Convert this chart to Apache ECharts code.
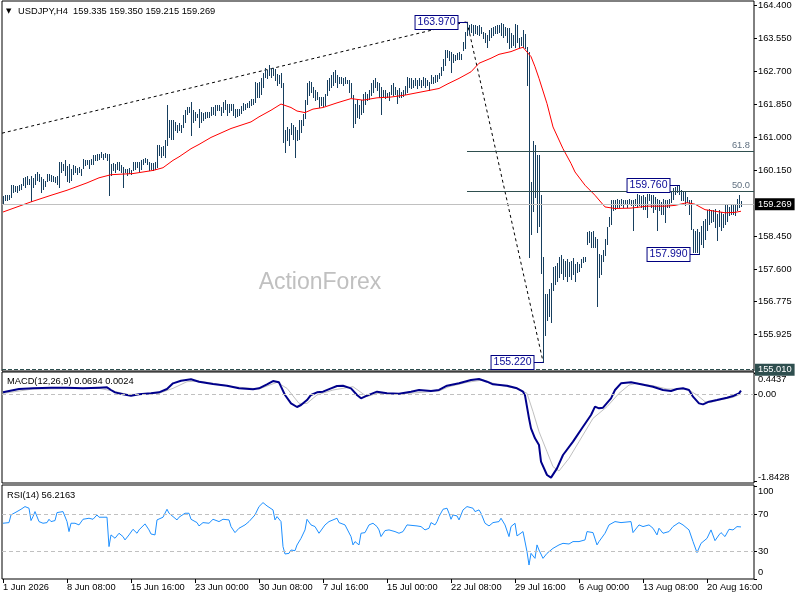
<!DOCTYPE html>
<html><head><meta charset="utf-8">
<script src="https://cdn.jsdelivr.net/npm/echarts/dist/echarts.min.js"></script>
<style>html,body{margin:0;padding:0;background:#fff}#c{width:800px;height:600px}</style>
</head><body><div id="c"></div>
<script>
const symbol = 'USDJPY,H4';
const lastBar = [159.335, 159.350, 159.215, 159.269];
const highs = [
159.47,159.50,159.50,159.51,159.76,159.76,159.73,159.73,159.76,159.78,
159.95,159.97,159.99,159.93,159.99,159.95,160.06,160.10,160.06,159.97,
159.93,159.88,160.04,160.04,160.01,159.99,159.97,159.99,160.36,160.36,
160.31,160.40,160.25,160.31,160.19,160.27,160.25,160.21,160.23,160.19,
160.44,160.42,160.42,160.40,160.43,160.53,160.53,160.57,160.57,160.61,
160.57,160.59,160.56,160.57,160.31,160.33,160.31,160.36,160.36,160.27,
160.23,160.19,160.19,160.21,160.14,160.36,160.36,160.36,160.36,160.40,
160.44,160.47,160.43,160.36,160.33,160.33,160.36,160.79,160.79,160.74,
160.76,160.93,161.82,161.43,161.43,161.43,161.39,161.30,161.35,161.30,
161.56,161.69,161.78,161.78,161.91,161.69,161.65,161.60,161.73,
161.65,161.62,161.65,161.65,161.65,161.78,161.78,161.82,161.82,161.82,
161.78,161.91,161.95,161.86,161.85,161.85,161.85,161.73,161.73,161.73,
161.79,161.88,161.86,161.88,161.93,161.97,161.99,162.42,162.38,162.42,
162.51,162.64,162.77,162.72,162.85,162.79,162.79,162.74,162.62,162.59,
162.64,162.38,161.18,161.26,161.22,161.35,161.30,161.26,161.18,161.43,
161.43,161.60,161.95,162.38,162.45,162.42,162.29,162.21,162.16,162.04,
162.04,162.04,162.12,162.46,162.51,162.59,162.68,162.72,162.59,162.55,
162.55,162.51,162.55,162.48,162.48,162.38,162.08,161.86,161.95,161.82,
161.95,162.12,162.16,162.12,162.21,162.38,162.48,162.51,162.42,162.38,
162.29,162.21,162.21,162.14,162.16,
162.34,162.40,162.28,162.21,162.25,162.16,162.21,162.31,162.55,162.51,
162.51,162.47,162.51,162.47,162.51,162.47,162.55,162.51,162.47,162.42,
162.59,162.55,162.59,162.59,162.64,162.81,163.02,163.24,163.24,163.22,
163.20,163.15,163.11,163.17,163.20,163.15,163.45,163.71,163.97,163.88,
163.91,163.88,163.88,163.86,163.88,163.84,163.71,163.67,163.63,163.75,
163.80,163.84,163.86,163.88,163.88,163.94,163.91,163.84,163.80,163.80,
163.67,163.63,163.91,163.88,163.54,163.58,163.75,163.65,163.32,
163.20,159.84,160.90,160.79,160.53,160.53,159.50,157.90,156.95,156.96,
157.10,157.25,157.65,157.69,157.75,157.90,157.95,157.86,
157.82,157.86,157.78,157.82,157.89,157.73,157.78,157.73,157.86,157.91,
157.92,158.55,158.59,158.55,158.59,158.42,158.38,157.99,157.95,158.08,
158.38,158.68,158.94,159.37,159.37,159.37,159.41,159.39,159.41,159.39,
159.37,159.37,159.41,159.37,159.39,159.41,159.54,159.50,159.47,159.50,
159.46,159.54,159.54,159.52,159.50,159.46,159.41,159.37,159.33,159.41,
159.37,159.37,159.41,159.58,159.70,159.72,159.74,159.76,159.64,159.58,
159.58,159.46,159.39,159.37,158.64,158.59,158.64,158.55,158.72,158.85,
158.90,159.11,159.15,159.11,159.11,159.15,159.03,159.11,159.07,159.03,
159.24,159.28,159.20,159.24,159.28,159.24,159.41,159.50,159.35];
const lows = [
159.27,159.39,159.39,159.40,159.45,159.58,159.61,159.58,159.63,159.67,
159.76,159.71,159.80,159.78,159.35,159.71,159.80,159.90,159.88,159.58,
159.67,159.73,159.87,159.90,159.87,159.88,159.84,159.78,159.71,160.10,
160.14,160.01,159.87,159.84,159.90,160.06,160.10,160.06,160.10,160.01,
160.21,160.27,160.30,160.21,160.31,160.31,160.40,160.42,160.44,160.49,
160.43,160.49,160.40,159.52,160.01,160.14,160.10,160.19,160.14,160.09,
159.71,160.09,160.01,160.07,160.06,160.14,160.19,160.23,160.13,160.19,
160.31,160.36,160.30,160.14,160.19,160.14,160.19,160.23,160.53,160.49,
160.53,160.49,160.79,161.00,160.96,160.96,161.17,161.13,161.17,161.13,
161.26,161.39,161.60,161.65,161.05,161.39,161.43,161.52,161.26,
161.39,161.43,161.48,161.52,161.52,161.56,161.60,161.56,161.69,161.69,
161.56,161.65,161.73,161.56,161.65,161.69,161.56,161.52,161.54,161.56,
161.62,161.69,161.73,161.78,161.78,161.82,161.86,161.91,162.04,162.04,
162.12,162.29,162.55,162.51,162.59,162.55,162.59,162.46,162.34,162.38,
162.29,160.87,160.62,160.92,160.79,161.09,160.96,160.49,160.92,160.96,
161.13,161.30,161.48,161.86,162.08,162.16,162.04,161.95,161.99,161.78,
161.82,161.80,161.82,162.08,162.21,162.29,162.34,162.42,162.29,162.38,
162.38,162.34,162.38,162.38,162.16,162.04,161.26,161.35,161.52,161.48,
161.60,161.65,161.86,161.95,161.99,162.08,162.16,162.29,162.21,162.04,
161.60,162.04,162.00,162.04,161.95,
162.12,162.08,162.12,161.88,162.02,162.02,162.05,162.12,162.16,162.29,
162.25,162.29,162.34,162.25,162.34,162.28,162.34,162.29,162.34,162.21,
162.38,162.38,162.42,162.45,162.51,162.59,162.72,162.85,163.07,162.98,
162.68,162.94,162.98,163.00,163.02,163.00,163.24,163.28,163.63,163.67,
163.71,163.63,163.67,163.65,163.63,163.67,163.54,163.45,163.32,163.50,
163.58,163.63,163.67,163.67,163.71,163.63,163.58,163.63,163.45,163.28,
163.32,163.37,163.32,163.45,163.32,163.37,163.32,163.28,162.34,
157.92,158.51,159.10,159.45,158.55,158.70,157.50,155.22,155.90,156.30,
156.40,156.25,157.05,157.22,157.30,157.40,157.50,157.35,
157.43,157.30,157.43,157.35,157.48,157.30,157.52,157.56,157.65,157.78,
157.82,158.25,158.29,158.17,158.17,158.17,156.66,157.39,157.48,157.82,
157.95,158.25,158.72,158.77,159.11,159.15,159.20,159.20,159.24,159.20,
159.28,159.20,159.28,159.24,158.60,159.24,159.20,159.24,159.20,159.15,
159.15,158.94,159.37,159.21,159.07,159.15,158.60,159.11,159.03,159.03,
158.81,159.20,159.20,159.33,159.41,159.54,159.58,159.54,159.37,159.39,
159.24,159.33,159.03,158.64,158.04,158.04,158.05,157.99,158.25,158.17,
158.38,158.60,158.77,158.81,158.85,158.68,158.34,158.72,158.60,158.68,
158.77,158.85,158.98,159.03,159.03,158.98,159.11,159.20,159.215];
const maIdx = [0,14,24,32,42,48,54,65,75,80,85,88,94,98,104,114,124,128,134,139,144,147,151,155,160,167,174,180,187,194,201,214,218,222,228,234,238,244,248,254,258,260,264,266,268,272,275,280,284,286,291,296,301,306,314,322,331,336,342,346,351,356,361,366,369];
const maVal = [159.07,159.33,159.50,159.63,159.82,159.95,160.03,160.06,160.14,160.21,160.40,160.49,160.70,160.81,160.99,161.22,161.39,161.52,161.69,161.85,161.76,161.67,161.63,161.72,161.76,161.88,161.99,161.95,162.01,162.03,162.08,162.21,162.25,162.36,162.51,162.68,162.90,163.03,163.13,163.20,163.28,163.31,163.07,162.81,162.51,161.86,161.26,160.70,160.32,160.10,159.76,159.50,159.20,159.16,159.17,159.22,159.22,159.24,159.31,159.27,159.13,159.09,159.05,159.06,159.09];
const macdIdx = [0,8,15,24,32,40,48,52,54,56,60,64,68,74,78,82,85,89,94,98,105,112,118,125,128,132,135,138,139,141,144,147,149,152,154,157,160,164,167,170,174,177,179,182,187,192,198,204,208,214,218,222,228,234,238,242,245,252,257,260,261,263,264,266,268,269,272,274,277,280,285,290,294,296,298,300,304,306,309,314,319,325,330,334,337,340,343,345,348,350,353,357,362,365,368,369];
const macdVal = [0.034,0.105,0.119,0.133,0.133,0.119,0.133,0.140,0.084,0.034,-0.008,-0.036,-0.008,0.013,0.034,0.105,0.225,0.281,0.310,0.260,0.211,0.175,0.119,0.098,0.119,0.204,0.274,0.246,0.154,-0.022,-0.199,-0.276,-0.234,-0.128,-0.022,0.034,0.048,0.119,0.168,0.175,0.119,-0.022,-0.093,-0.036,0.048,0.013,0.005,0.048,0.084,0.063,0.084,0.175,0.225,0.295,0.317,0.260,0.204,0.175,0.119,0.048,-0.030,-0.516,-0.728,-0.940,-1.081,-1.434,-1.716,-1.772,-1.575,-1.292,-1.010,-0.693,-0.446,-0.269,-0.304,-0.290,-0.093,0.084,0.225,0.246,0.204,0.154,0.084,0.063,0.105,0.119,0.084,-0.057,-0.199,-0.220,-0.163,-0.128,-0.079,-0.043,0.013,0.0694];
const sigIdx = [0,15,48,55,62,68,78,85,92,98,115,128,137,142,148,152,157,165,175,182,187,198,218,223,232,240,248,258,262,265,268,272,275,278,283,288,295,302,308,313,317,325,332,342,347,351,354,358,365,369];
const sigVal = [0.013,0.105,0.119,0.063,-0.008,-0.008,0.013,0.119,0.260,0.274,0.154,0.105,0.246,0.119,-0.199,-0.199,-0.022,0.084,0.154,-0.057,0.013,-0.003,0.063,0.154,0.246,0.295,0.189,0.105,0.013,-0.375,-0.798,-1.222,-1.539,-1.631,-1.363,-1.010,-0.516,-0.269,0.013,0.189,0.225,0.175,0.105,0.105,-0.022,-0.163,-0.177,-0.128,-0.071,0.0024];
const rsiIdx = [0,3,4,7,9,11,13,14,15,16,17,18,20,22,23,24,26,27,28,30,31,32,33,34,36,37,38,40,41,43,45,47,48,52,53,54,56,58,60,61,63,65,67,68,71,73,74,76,77,78,80,82,83,85,87,88,91,93,94,97,98,100,103,105,108,110,113,114,116,118,121,123,126,128,130,132,133,135,136,137,139,140,141,143,144,146,147,149,151,152,154,156,158,159,161,163,167,168,171,172,174,175,176,178,179,181,183,185,187,188,189,191,193,196,198,200,202,203,207,209,211,213,214,216,217,218,220,222,223,224,225,227,228,230,232,233,235,236,238,239,241,243,245,248,249,251,253,254,256,257,258,260,262,263,264,265,266,267,268,270,272,273,275,278,280,283,285,288,291,292,295,297,298,301,303,306,309,314,315,318,320,323,325,327,328,330,333,335,338,340,343,345,347,349,352,354,356,358,359,361,363,365,367,368,369];
const rsiVal = [60.2,60.9,69.2,72.8,75.3,78.2,76.4,63.1,67.4,72.8,71.0,62.0,60.2,60.9,64.5,62.0,63.1,71.7,71.0,72.8,71.0,62.0,51.2,60.2,60.2,58.4,58.4,64.5,63.8,65.6,64.5,69.2,66.7,66.7,35.0,47.6,44.0,49.4,45.8,42.2,47.6,53.7,49.4,53.0,59.5,53.0,48.6,47.6,63.8,62.0,66.7,75.3,71.0,67.4,63.8,66.7,71.0,71.0,64.5,60.9,57.3,60.9,60.2,64.5,62.0,64.5,63.8,56.6,50.1,54.8,58.4,62.0,69.2,78.2,82.5,78.9,80.0,74.6,63.8,67.4,62.0,35.0,27.0,27.7,31.3,30.6,36.7,43.9,53.0,64.5,58.4,56.6,49.4,51.2,58.4,62.0,65.6,60.9,58.4,56.6,45.8,36.8,40.4,36.8,49.4,50.1,58.4,60.2,56.6,53.0,45.8,52.3,53.0,51.2,49.4,51.2,58.4,57.3,57.3,56.6,53.0,54.8,60.9,58.4,62.0,67.4,75.3,76.4,71.0,64.5,69.2,68.1,63.8,74.6,78.2,78.9,76.4,72.8,74.6,71.0,60.2,57.3,60.9,62.0,65.6,58.4,45.8,56.6,60.2,46.5,47.6,51.2,29.5,15.1,27.7,29.5,22.3,36.8,31.3,22.3,27.7,29.5,33.1,36.8,38.5,37.8,40.4,40.4,42.2,51.2,50.1,36.8,40.4,49.4,58.4,62.0,60.9,62.0,50.1,58.4,56.6,58.4,54.8,47.6,54.8,49.4,51.2,56.6,60.9,58.4,53.0,40.4,28.5,38.5,43.9,53.0,41.4,47.6,50.1,45.8,53.7,53.0,56.6,58.4,56.2];
const priceTicks = [164.400,163.550,162.700,161.850,161.000,160.150,158.450,157.600,156.775,155.925];
const macdTicks = [0.4437, 0, -1.8428];
const macdTickText = ['0.4437', '0.00', '-1.8428'];
const macdLevel = 0;
const rsiTicks = [100, 70, 30, 0];
const rsiLevels = [70, 30];
const timeTickIdx = [0,32,64,96,128,160,192,224,256,288,320,352];
const timeLabels = ['1 Jun 2026','8 Jun 08:00','15 Jun 16:00','23 Jun 00:00','30 Jun 08:00','7 Jul 16:00','15 Jul 00:00','22 Jul 08:00','29 Jul 16:00','6 Aug 00:00','13 Aug 08:00','20 Aug 16:00'];
const swingIdx = [232, 270, 338, 348];
const swingPrice = [163.970, 155.220, 159.760, 157.990];
const fibStartIdx = 232;
const fibLevels = [160.628, 159.595];
const fibNames = ['61.8', '50.0'];
const hLinePrice = 155.010;
const trendIdx = [-0.5, 232];
const trendPrice = [161.10, 163.97];
const diagIdx = [232, 270];
const diagPrice = [163.97, 155.22];
const macdParams = [12, 26, 9];
const macdLast = [0.0694, 0.0024];
const rsiPeriod = 14;
const rsiLast = 56.2163;

const FONT = '"Liberation Sans", Arial, sans-serif';
const FS = 9.3;
const XMAX = 375.5, XMIN = -0.5;
const pairs = (a, b) => a.map((v, k) => [v, b[k]]);
const hLine = (val, style) => [
  {coord: [XMIN, val], lineStyle: style, label: {show: false}},
  {coord: [XMAX, val]}
];

const chart = echarts.init(document.getElementById('c'), null, {renderer: 'canvas', width: 800, height: 600});

const hiddenX = (gi) => ({show: false, type: 'value', gridIndex: gi, min: XMIN, max: XMAX, axisLine: {show: false, onZero: false}, axisTick: {show: false}, axisLabel: {show: false}, splitLine: {show: false}});

const option = {
  animation: false,
  backgroundColor: '#fff',
  textStyle: {fontFamily: FONT},
  grid: [
    {left: 2, top: 1, width: 752, height: 370, show: true, borderColor: '#000', borderWidth: 1, backgroundColor: 'transparent'},
    {left: 2, top: 372, width: 752, height: 111, show: true, borderColor: '#000', borderWidth: 1},
    {left: 2, top: 485, width: 752, height: 94, show: true, borderColor: '#000', borderWidth: 1}
  ],
  xAxis: [hiddenX(0), hiddenX(1), {
    type: 'value', gridIndex: 2, min: XMIN, max: XMAX,
    axisLine: {show: false, onZero: false}, splitLine: {show: false},
    axisTick: {show: true, customValues: timeTickIdx, length: 4, lineStyle: {color: '#000'}},
    axisLabel: {show: true, customValues: timeTickIdx, align: 'left', margin: 4, fontSize: FS, color: '#000', fontFamily: FONT,
      formatter: (v) => timeLabels[timeTickIdx.indexOf(Math.round(v))] || ''}
  }],
  yAxis: [
    {type: 'value', gridIndex: 0, position: 'right', min: 154.976, max: 164.503,
      axisLine: {show: false, onZero: false}, splitLine: {show: false},
      axisTick: {show: true, customValues: priceTicks, length: 3, lineStyle: {color: '#000'}},
      axisLabel: {customValues: priceTicks, margin: 4, fontSize: FS, color: '#000', fontFamily: FONT, formatter: (v) => v.toFixed(3)}},
    {type: 'value', gridIndex: 1, position: 'right', min: -1.8851, max: 0.4649,
      axisLine: {show: false, onZero: false}, splitLine: {show: false},
      axisTick: {show: true, customValues: macdTicks, length: 3, lineStyle: {color: '#000'}},
      axisLabel: {customValues: macdTicks, margin: 4, fontSize: FS, color: '#000', fontFamily: FONT,
        formatter: (v) => {
          const k = macdTicks.findIndex(t => Math.abs(t - v) < 1e-6);
          const s = k >= 0 ? macdTickText[k] : String(v);
          return k === 0 ? '{t|' + s + '}' : (k === 2 ? '{b|' + s + '}' : '{n|' + s + '}');
        },
        rich: {t: {padding: [13, 0, 0, 0], fontSize: FS, fontFamily: FONT, color: '#000'},
               b: {padding: [0, 0, 7, 0], fontSize: FS, fontFamily: FONT, color: '#000'},
               n: {fontSize: FS, fontFamily: FONT, color: '#000'}}}},
    {type: 'value', gridIndex: 2, position: 'right', min: 0, max: 101.5,
      axisLine: {show: false, onZero: false}, splitLine: {show: false},
      axisTick: {show: true, customValues: rsiTicks, length: 3, lineStyle: {color: '#000'}},
      axisLabel: {customValues: rsiTicks, margin: 4, fontSize: FS, color: '#000', fontFamily: FONT,
        formatter: (v) => {
          const r = Math.round(v);
          if (r === 100) return '{t|100}';
          if (r === 0) return '{b|0}';
          return '{n|' + r + '}';
        },
        rich: {t: {padding: [11, 0, 0, 0], fontSize: FS, fontFamily: FONT, color: '#000'},
               b: {padding: [0, 0, 14, 0], fontSize: FS, fontFamily: FONT, color: '#000'},
               n: {fontSize: FS, fontFamily: FONT, color: '#000'}}}}
  ],
  graphic: [
    {type: 'text', x: 6, y: 11, z: 100, style: {text: '\u25BC', font: '7px "DejaVu Sans"', fill: '#000', verticalAlign: 'middle'}},
    {type: 'text', x: 18, y: 11, z: 100, style: {text: symbol + '  ' + lastBar.map(v => v.toFixed(3)).join(' '), font: FS + 'px ' + FONT, fill: '#000', verticalAlign: 'middle'}},
    {type: 'text', x: 320, y: 283, z: -1, style: {text: 'ActionForex', font: '23px ' + FONT, fill: '#c0c0c0', align: 'center', verticalAlign: 'middle'}},
    {type: 'text', x: 7, y: 381, z: 100, style: {text: 'MACD(' + macdParams.join(',') + ') ' + macdLast.map(v => v.toFixed(4)).join(' '), font: FS + 'px ' + FONT, fill: '#000', verticalAlign: 'middle'}},
    {type: 'text', x: 7, y: 495, z: 100, style: {text: 'RSI(' + rsiPeriod + ') ' + rsiLast.toFixed(4), font: FS + 'px ' + FONT, fill: '#000', verticalAlign: 'middle'}}
  ],
  series: [
    {
      name: 'bars', type: 'custom', xAxisIndex: 0, yAxisIndex: 0, z: 3, silent: true,
      data: highs.map((h, i) => [i, h, lows[i]]),
      renderItem: (params, api) => {
        const i = api.value(0);
        const a = api.coord([i, api.value(1)]);
        const b = api.coord([i, api.value(2)]);
        const x = Math.floor(a[0]) + 0.5;
        const y1 = Math.round(a[1]), y2 = Math.round(b[1]) + 1;
        return {type: 'line', shape: {x1: x, y1: y1, x2: x, y2: y2}, style: {stroke: '#173f5f', lineWidth: 1}};
      },
      markLine: {
        silent: true, symbol: ['none', 'none'], animation: false,
        data: [
          {yAxis: lastBar[3], lineStyle: {color: '#c0c0c0', width: 1, type: 'solid'},
            label: {show: true, position: 'end', distance: 1, formatter: lastBar[3].toFixed(3), backgroundColor: '#000', color: '#fff', padding: [2, 3, 1, 3], fontSize: FS, fontFamily: FONT}},
          {yAxis: hLinePrice, lineStyle: {color: '#2f4f4f', width: 1, type: [4, 2]},
            label: {show: true, position: 'end', distance: 1, formatter: hLinePrice.toFixed(3), backgroundColor: '#2f4f4f', color: '#fff', padding: [2, 3, 1, 3], fontSize: FS, fontFamily: FONT}},
          ...fibLevels.map((lv, k) => [
            {coord: [fibStartIdx, lv], lineStyle: {color: '#2f4f4f', width: 1, type: 'solid'},
              label: {show: true, position: 'insideEndTop', distance: [4, 2], formatter: fibNames[k], color: '#607080', fontSize: FS, fontFamily: FONT}},
            {coord: [XMAX, lv]}
          ])
        ]
      }
    },
    {name: 'trend', type: 'line', xAxisIndex: 0, yAxisIndex: 0, z: 2, data: pairs(trendIdx, trendPrice), showSymbol: false, symbol: 'none', silent: true,
      lineStyle: {color: '#000', width: 1, type: [3, 3]}},
    {name: 'diag', type: 'line', xAxisIndex: 0, yAxisIndex: 0, z: 2, data: pairs(diagIdx, diagPrice), showSymbol: false, symbol: 'none', silent: true,
      lineStyle: {color: '#000', width: 1, type: [3, 3]}},
    {name: 'ma', type: 'line', xAxisIndex: 0, yAxisIndex: 0, z: 4, data: pairs(maIdx, maVal), showSymbol: false, symbol: 'none', silent: true,
      lineStyle: {color: '#ff0000', width: 1}},
    {
      name: 'swings', type: 'custom', xAxisIndex: 0, yAxisIndex: 0, z: 10, silent: true,
      data: pairs(swingIdx, swingPrice),
      renderItem: (params, api) => {
        const v = api.value(1);
        const p = api.coord([api.value(0), v]);
        const x = Math.round(p[0]) + 0.5, y = Math.round(p[1]) + 0.5;
        const gap = 10;
        return {type: 'group', children: [
          {type: 'line', shape: {x1: x - gap, y1: y, x2: x, y2: y}, style: {stroke: '#000080', lineWidth: 1}},
          {type: 'text', x: x - gap, y: y, style: {text: v.toFixed(3), align: 'right', verticalAlign: 'middle',
            font: '10.5px ' + FONT, fill: '#0a0a96', backgroundColor: '#fff', borderColor: '#000080', borderWidth: 1, padding: [1, 2, 1, 2]}}
        ]};
      }
    },
    {name: 'signal', type: 'line', xAxisIndex: 1, yAxisIndex: 1, z: 3, data: pairs(sigIdx, sigVal), showSymbol: false, symbol: 'none', silent: true,
      lineStyle: {color: '#c0c0c0', width: 1},
      markLine: {silent: true, symbol: ['none', 'none'], label: {show: false},
        data: [hLine(macdLevel, {color: '#c0c0c0', width: 1, type: [4, 3]})]}},
    {name: 'macd', type: 'line', xAxisIndex: 1, yAxisIndex: 1, z: 4, data: pairs(macdIdx, macdVal), showSymbol: false, symbol: 'none', silent: true,
      lineStyle: {color: '#00008b', width: 2}},
    {name: 'rsi', type: 'line', xAxisIndex: 2, yAxisIndex: 2, z: 4, data: pairs(rsiIdx, rsiVal), showSymbol: false, symbol: 'none', silent: true,
      lineStyle: {color: '#1e90ff', width: 1},
      markLine: {silent: true, symbol: ['none', 'none'], label: {show: false},
        data: rsiLevels.map(l => hLine(l, {color: '#c0c0c0', width: 1, type: [4, 3]}))}}
  ]
};
chart.setOption(option);
</script></body></html>
